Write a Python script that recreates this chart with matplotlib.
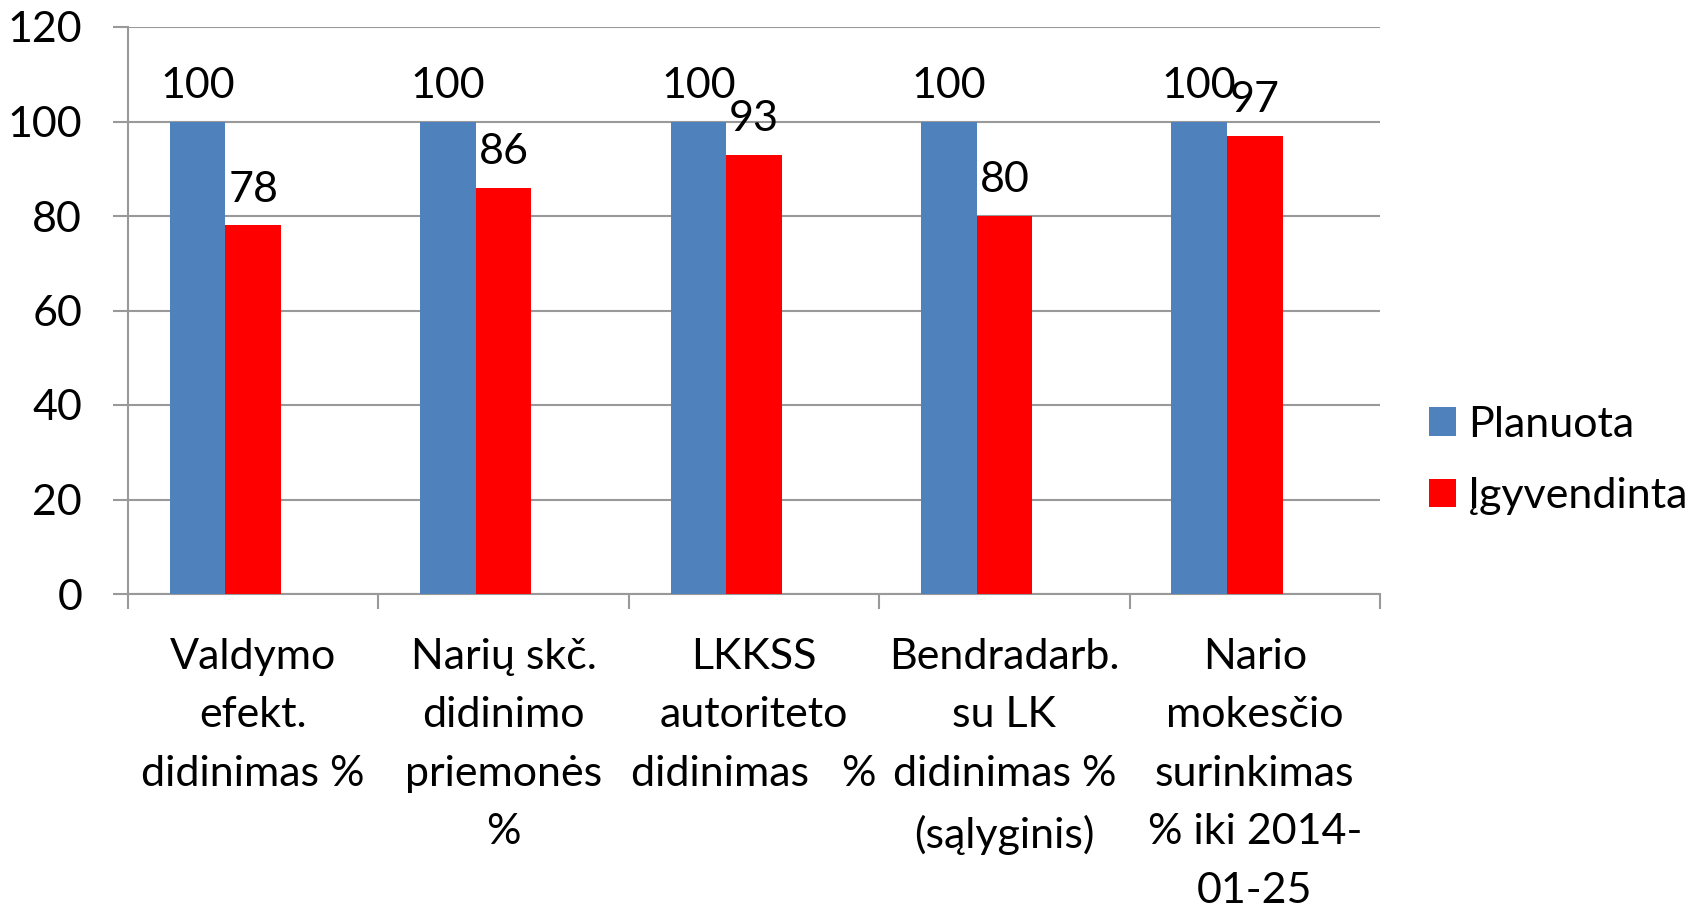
import matplotlib
matplotlib.use("Agg")
import matplotlib.pyplot as plt
import numpy as np

categories = [
    "Valdymo\nefekt.\ndidinimas %",
    "Narių skč.\ndidinimo\npriemonės\n%",
    "LKKSS\nautoriteto\ndidinimas   %",
    "Bendradarb.\nsu LK\ndidinimas %\n(sąlyginis)",
    "Nario\nmokesčio\nsurinkimas\n% iki 2014-\n01-25",
]
planuota = [100, 100, 100, 100, 100]
igyvendinta = [78, 86, 93, 80, 97]
series_names = ["Planuota", "Įgyvendinta"]
yticks = [0, 20, 40, 60, 80, 100, 120]

plt.rcParams['font.family'] = ['Lato', 'DejaVu Sans']
FS = 31
BLUE = "#4F81BD"
RED = "#FF0000"
GRID = "#999999"

fig = plt.figure(figsize=(17.07, 9.09), dpi=100)
ax = fig.add_axes([128/1707, 1-594/909, (1380-128)/1707, (594-27)/909])

x = np.arange(len(categories))
w = 0.222
b1 = ax.bar(x - w, planuota, width=w, color=BLUE, label=series_names[0], zorder=3)
b2 = ax.bar(x, igyvendinta, width=w, color=RED, label=series_names[1], zorder=3)

for bars, vals in ((b1, planuota), (b2, igyvendinta)):
    for rect, v in zip(bars, vals):
        ax.annotate(f"{v}", (rect.get_x() + rect.get_width()/2, v),
                    xytext=(0, 17), textcoords="offset points",
                    ha="center", va="baseline", fontsize=FS, zorder=4)

ax.set_xlim(-0.5, len(categories) - 0.5)
ax.set_ylim(0, 120)
ax.set_yticks(yticks)
ax.set_yticklabels([str(t) for t in yticks], fontsize=FS)
ax.yaxis.grid(True, color=GRID, linewidth=1.5, zorder=0)
ax.set_axisbelow(True)

# category boundary ticks
ax.set_xticks(np.arange(-0.5, len(categories), 1.0))
ax.set_xticklabels([])
ax.set_xticks(x, minor=True)
ax.set_xticklabels(categories, minor=True, fontsize=FS, linespacing=1.66)
ax.tick_params(axis='x', which='major', length=11, width=1.5, color=GRID, direction='out')
ax.tick_params(axis='x', which='minor', length=0, pad=31.5)
ax.tick_params(axis='y', length=11, width=1.5, color=GRID, pad=22)

for s in ["top", "right"]:
    ax.spines[s].set_visible(False)
for s in ["left", "bottom"]:
    ax.spines[s].set_color(GRID)
    ax.spines[s].set_linewidth(1.5)

leg = fig.legend(loc="center left", bbox_to_anchor=(1429/1707, 1-460.5/909),
                 frameon=False, fontsize=FS, handlelength=0.63, handleheight=0.63,
                 handletextpad=0.28, labelspacing=0.78, borderpad=0, borderaxespad=0)

fig.savefig("out.png", dpi=100)
